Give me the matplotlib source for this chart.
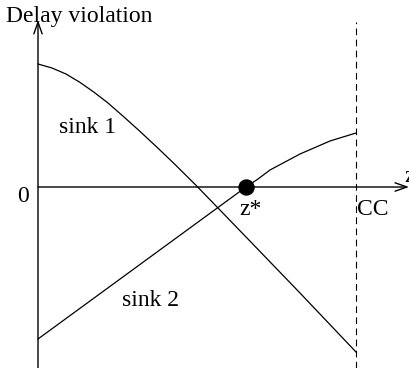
import matplotlib
matplotlib.use("Agg")
import matplotlib.pyplot as plt

# delay violation of each sink as the cut point z moves towards CC
sink1_z = [0, 14, 28, 42, 56, 70, 86, 102, 118, 136, 159, 209, 262, 318]
sink1_delay = [123, 119, 113, 104.6, 94.8, 84, 70, 55.6, 40.7, 23.5, 0.7, -51, -106, -165]

sink2_z = [0, 208, 220, 232, 262, 292, 318]
sink2_delay = [-152, 0, 8, 17, 33, 46, 54]

z_star = 208
cc = 318

plt.rcParams['font.family'] = ['Liberation Serif', 'DejaVu Serif']
fs = 17

fig = plt.figure(figsize=(4.1, 3.68), dpi=100)
ax = fig.add_axes([0, 0, 1, 1])
ax.set_xlim(-38, 372)
ax.set_ylim(-181, 187)
ax.axis('off')

# axes drawn as arrows
arrow = dict(arrowstyle='->,head_length=0.85,head_width=0.3', lw=1.0,
             color='black', shrinkA=0, shrinkB=0)
ax.annotate('', xy=(0, 167), xytext=(0, -181), arrowprops=arrow)
ax.annotate('', xy=(371, 0), xytext=(0, 0), arrowprops=arrow)

# CC boundary
ax.plot([cc, cc], [-181, 165], color='black', lw=0.8, linestyle=(0, (6, 4)))

ax.plot(sink1_z, sink1_delay, color='black', lw=0.9)
ax.plot(sink2_z, sink2_delay, color='black', lw=0.9)
ax.plot([z_star], [0], 'o', color='black', markersize=10.8)

ax.text(-32, 165, 'Delay violation', fontsize=fs, va='baseline', ha='left')
ax.text(21, 54, 'sink 1', fontsize=fs, va='baseline', ha='left')
ax.text(84, -119, 'sink 2', fontsize=fs, va='baseline', ha='left')
ax.text(-21, -15, '0', fontsize=fs, va='baseline', ha='left')
ax.text(201, -28, 'z*', fontsize=fs, va='baseline', ha='left')
ax.text(319, -28, 'CC', fontsize=fs, va='baseline', ha='left')
ax.text(366, 5, 'z', fontsize=fs, va='baseline', ha='left')

fig.savefig('out.png', dpi=100)
